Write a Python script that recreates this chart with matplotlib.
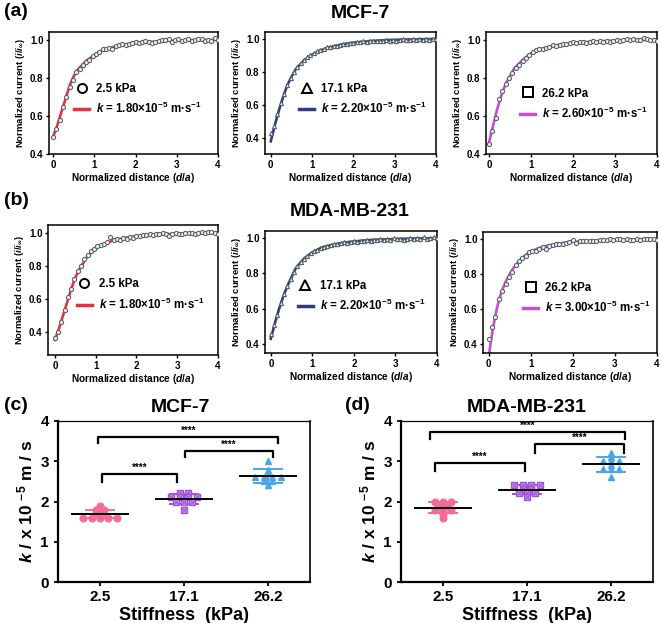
import numpy as np
import matplotlib
matplotlib.use("Agg")
import matplotlib.pyplot as plt
from matplotlib.lines import Line2D

plt.rcParams["font.family"] = ["Liberation Sans", "DejaVu Sans"]
plt.rcParams["font.weight"] = "bold"
plt.rcParams["axes.labelweight"] = "bold"
plt.rcParams["mathtext.fontset"] = "custom"
plt.rcParams["mathtext.rm"] = "Liberation Sans:bold"
plt.rcParams["mathtext.it"] = "Liberation Sans:italic:bold"
plt.rcParams["mathtext.bf"] = "Liberation Sans:bold"

# ---- approach curves: normalized distance (d/a) ----
distance = [0.00, 0.08, 0.16, 0.24, 0.32, 0.40, 0.48, 0.56, 0.64, 0.72,
            0.80, 0.88, 0.96, 1.04, 1.12, 1.20, 1.28, 1.36, 1.44, 1.52,
            1.60, 1.68, 1.76, 1.84, 1.92, 2.00, 2.08, 2.16, 2.24, 2.32,
            2.40, 2.48, 2.56, 2.64, 2.72, 2.80, 2.88, 2.96, 3.04, 3.12,
            3.20, 3.28, 3.36, 3.44, 3.52, 3.60, 3.68, 3.76, 3.84, 3.92, 4.00]

mcf_25 = [0.49, 0.53, 0.58, 0.645, 0.70, 0.755, 0.79, 0.83, 0.845, 0.87,
          0.885, 0.895, 0.915, 0.925, 0.935, 0.95, 0.955, 0.96, 0.955, 0.97,
          0.975, 0.98, 0.975, 0.98, 0.985, 0.99, 0.985, 0.99, 0.995, 0.99,
          0.985, 0.99, 0.995, 1.0, 1.0, 1.005, 0.99, 1.0, 1.005, 0.995,
          1.0, 1.005, 0.995, 1.0, 1.005, 1.005, 0.995, 1.0, 0.995, 1.01, 1.0]
mcf_171 = [0.43, 0.47, 0.545, 0.61, 0.665, 0.72, 0.765, 0.80, 0.83, 0.855,
           0.875, 0.89, 0.905, 0.915, 0.925, 0.935, 0.94, 0.95, 0.95, 0.958,
           0.96, 0.965, 0.968, 0.97, 0.975, 0.975, 0.98, 0.982, 0.985, 0.98,
           0.985, 0.99, 0.99, 0.985, 0.99, 0.995, 0.99, 0.995, 0.99, 0.995,
           1.0, 0.995, 0.995, 1.0, 0.995, 1.0, 0.995, 1.0, 0.995, 1.0, 1.0]
mcf_262 = [0.455, 0.52, 0.59, 0.69, 0.73, 0.77, 0.80, 0.825, 0.855, 0.87,
           0.89, 0.905, 0.92, 0.935, 0.945, 0.95, 0.955, 0.96, 0.965, 0.975,
           0.97, 0.975, 0.98, 0.98, 0.985, 0.99, 0.985, 0.99, 0.99, 0.985,
           0.99, 0.995, 0.99, 0.995, 0.99, 0.995, 0.99, 0.995, 1.0, 0.995,
           1.0, 1.005, 1.0, 1.005, 1.0, 1.0, 1.01, 1.005, 1.0, 1.0, 0.995]
mda_25 = [0.36, 0.40, 0.46, 0.53, 0.61, 0.66, 0.72, 0.77, 0.80, 0.84,
          0.87, 0.89, 0.905, 0.92, 0.93, 0.935, 0.945, 0.975, 0.96, 0.965,
          0.96, 0.97, 0.965, 0.975, 0.97, 0.98, 0.985, 0.99, 0.99, 0.995,
          0.99, 0.995, 0.995, 1.0, 0.995, 0.985, 0.995, 1.0, 0.995, 0.995,
          1.0, 1.0, 1.0, 0.995, 1.0, 1.005, 1.0, 1.01, 1.005, 1.0, 0.995]
mda_171 = [0.455, 0.51, 0.565, 0.63, 0.685, 0.73, 0.77, 0.81, 0.84, 0.865,
           0.885, 0.90, 0.915, 0.925, 0.935, 0.945, 0.95, 0.955, 0.96, 0.965,
           0.97, 0.975, 0.98, 0.975, 0.98, 0.985, 0.98, 0.985, 0.985, 0.99,
           0.985, 0.99, 0.99, 0.995, 0.99, 0.995, 0.99, 1.0, 0.995, 0.995,
           0.99, 0.995, 1.0, 0.995, 1.0, 0.995, 1.005, 0.995, 1.0, 1.005, 1.0]
mda_262 = [0.43, 0.495, 0.555, 0.655, 0.705, 0.745, 0.785, 0.815, 0.855, 0.875,
           0.895, 0.905, 0.925, 0.935, 0.93, 0.945, 0.955, 0.945, 0.96, 0.965,
           0.97, 0.97, 0.975, 0.98, 0.985, 0.995, 0.98, 0.99, 0.99, 0.99,
           0.99, 0.99, 0.99, 0.995, 0.995, 0.995, 1.0, 0.995, 1.0, 1.0,
           0.995, 1.0, 0.995, 0.995, 1.0, 0.995, 1.0, 1.0, 1.0, 1.0, 0.995]

# fitted curves
fit_distance = [0.0, 0.1, 0.2, 0.3, 0.4, 0.5, 0.6, 0.8, 1.0, 1.2,
                1.4, 1.6, 1.8, 2.0, 2.4, 2.8, 3.2, 3.6, 4.0]
fit_mcf_25 = [0.49, 0.55, 0.62, 0.69, 0.76, 0.81, 0.845, 0.89, 0.92, 0.945,
              0.96, 0.97, 0.978, 0.984, 0.99, 0.995, 0.998, 1.0, 1.0]
fit_mcf_171 = [0.38, 0.48, 0.57, 0.65, 0.72, 0.77, 0.815, 0.87, 0.905, 0.93,
               0.948, 0.96, 0.97, 0.977, 0.987, 0.993, 0.996, 0.998, 1.0]
fit_mcf_262 = [0.46, 0.55, 0.64, 0.71, 0.77, 0.81, 0.85, 0.895, 0.93, 0.95,
               0.963, 0.972, 0.98, 0.985, 0.991, 0.995, 0.998, 1.0, 1.0]
fit_mda_25 = [0.35, 0.42, 0.50, 0.58, 0.66, 0.73, 0.78, 0.86, 0.905, 0.935,
              0.953, 0.965, 0.975, 0.982, 0.99, 0.995, 0.998, 1.0, 1.0]
fit_mda_171 = [0.43, 0.52, 0.60, 0.67, 0.73, 0.78, 0.83, 0.885, 0.92, 0.945,
               0.958, 0.968, 0.976, 0.982, 0.99, 0.994, 0.997, 0.999, 1.0]
fit_mda_262 = [0.33, 0.49, 0.61, 0.695, 0.755, 0.80, 0.84, 0.895, 0.93, 0.95,
               0.963, 0.972, 0.98, 0.985, 0.99, 0.995, 0.998, 1.0, 1.0]

stiffness_labels = ["2.5 kPa", "17.1 kPa", "26.2 kPa"]
k_labels_mcf = ["1.80", "2.20", "2.60"]
k_labels_mda = ["1.80", "2.20", "3.00"]

# ---- rate constants k (x10^-5 m/s) ----
stiffness = ["2.5", "17.1", "26.2"]
k_mcf = [[1.7, 1.7, 1.6, 1.6, 1.6, 1.6, 1.6, 1.8, 1.8, 1.9],
         [2.2, 2.2, 2.1, 2.1, 2.1, 2.1, 2.0, 2.0, 2.0, 1.8],
         [3.0, 2.78, 2.7, 2.6, 2.6, 2.6, 2.6, 2.5, 2.5, 2.4]]
k_mda = [[2.0, 2.0, 2.0, 1.9, 1.9, 1.8, 1.8, 1.8, 1.7, 1.6],
         [2.4, 2.4, 2.4, 2.4, 2.3, 2.3, 2.2, 2.2, 2.2, 2.1],
         [3.2, 3.1, 3.0, 3.0, 3.0, 2.9, 2.8, 2.8, 2.8, 2.6]]

fit_colors = ["#e8303f", "#2f3d7c", "#c44fd0"]
data_markers = ["o", "^", "o"]
legend_markers = ["o", "^", "s"]
group_colors = ["#f46a9b", "#a250d8", "#4aa6e6"]
group_markers = ["o", "s", "^"]

W, H = 661, 623
fig = plt.figure(figsize=(W / 100, H / 100), dpi=100)


def box(l, t, r, b):
    return [l / W, 1 - b / H, (r - l) / W, (b - t) / H]


def bold_ticks(ax):
    for t in ax.get_xticklabels() + ax.get_yticklabels():
        t.set_fontweight("bold")


def curve_panel(rect, xlim, ylim, y, fit, i, klab, leg_anchor):
    ax = fig.add_axes(box(*rect))
    ax.plot(fit_distance, fit, color=fit_colors[i], lw=1.9, zorder=2)
    ax.plot(distance, y, ls="none", marker=data_markers[i], ms=3.0,
            mfc="#f2f2f2", mec="#5a6468", mew=0.8, zorder=3)
    ax.set_xlim(*xlim)
    ax.set_ylim(*ylim)
    ax.set_xticks([0, 1, 2, 3, 4])
    ax.set_yticks([0.4, 0.6, 0.8, 1.0])
    ax.tick_params(labelsize=7, length=2.5, width=1, pad=1.5)
    bold_ticks(ax)
    for s in ax.spines.values():
        s.set_linewidth(1.1)
    ax.set_xlabel(r"Normalized distance ($d$/$a$)", fontsize=7.3, labelpad=1)
    ax.set_ylabel(r"Normalized current ($i$/$i_{\infty}$)", fontsize=6.8, labelpad=2)
    handles = [Line2D([], [], ls="none", marker=legend_markers[i], ms=6.5,
                      mfc="none", mec="k", mew=1.4),
               Line2D([], [], color=fit_colors[i], lw=2.5)]
    labels = [stiffness_labels[i],
              r"$k$ = " + klab + r"×10$^{-5}$ m·s$^{-1}$"]
    ax.legend(handles, labels, loc="upper left", bbox_to_anchor=leg_anchor,
              frameon=False, fontsize=8.3, handlelength=1.3, handletextpad=0.6,
              labelspacing=0.55, borderpad=0, borderaxespad=0)
    return ax


curve_panel((49, 32, 218, 154), (-0.1, 4.0), (0.4, 1.042), mcf_25, fit_mcf_25,
            0, k_labels_mcf[0], (0.15, 0.585))
curve_panel((265, 32, 436, 154), (-0.14, 4.0), (0.303, 1.042), mcf_171, fit_mcf_171,
            1, k_labels_mcf[1], (0.2, 0.585))
curve_panel((486, 32, 657, 154), (-0.07, 4.0), (0.4, 1.042), mcf_262, fit_mcf_262,
            2, k_labels_mcf[2], (0.2, 0.545))
curve_panel((48, 225, 218, 355), (-0.17, 4.0), (0.258, 1.05), mda_25, fit_mda_25,
            0, k_labels_mda[0], (0.17, 0.59))
curve_panel((265, 231, 437, 353), (-0.14, 4.0), (0.349, 1.041), mda_171, fit_mda_171,
            1, k_labels_mda[1], (0.19, 0.6))
curve_panel((483, 232, 657, 353), (-0.135, 4.0), (0.349, 1.041), mda_262, fit_mda_262,
            2, k_labels_mda[2], (0.23, 0.59))


def k_panel(rect, data, brackets):
    ax = fig.add_axes(box(*rect))
    for i, vals in enumerate(data):
        vals = np.array(vals)
        # simple beeswarm: spread equal values side by side
        xs = np.zeros(len(vals))
        for v in np.unique(vals):
            idx = np.where(vals == v)[0]
            n = len(idx)
            xs[idx] = i + (np.arange(n) - (n - 1) / 2) * 0.1
        m, sd = vals.mean(), vals.std(ddof=1)
        if group_markers[i] == "s":
            ax.plot(xs, vals, ls="none", marker="s", ms=4.5, mfc="#c79bef",
                    mec=group_colors[i], mew=1.0, zorder=3)
            ax.plot(xs, vals, ls="none", marker="x", ms=3.0, mec=group_colors[i],
                    mew=0.7, zorder=4)
        else:
            ax.plot(xs, vals, ls="none", marker=group_markers[i], ms=4.8,
                    color=group_colors[i], zorder=3)
        ax.plot([i - 0.17, i + 0.17], [m + sd, m + sd], color=group_colors[i], lw=1.4, zorder=2)
        ax.plot([i - 0.17, i + 0.17], [m - sd, m - sd], color=group_colors[i], lw=1.4, zorder=2)
        ax.plot([i, i], [m - sd, m + sd], color=group_colors[i], lw=1.4, zorder=2)
        ax.plot([i - 0.33, i + 0.33], [m, m], color="k", lw=1.4, zorder=4)
    for x0, x1, yt, yb, in brackets:
        ax.plot([x0, x0, x1, x1], [yb, yt, yt, yb], color="k", lw=1.6)
        ax.text((x0 + x1) / 2, yt + 0.03, "****", ha="center", va="bottom",
                fontsize=7, fontweight="bold")
    ax.set_xlim(-0.5, 2.5)
    ax.set_ylim(0, 4)
    ax.set_xticks([0, 1, 2])
    ax.set_xticklabels(stiffness)
    ax.set_yticks([0, 1, 2, 3, 4])
    ax.tick_params(axis="both", labelsize=11, length=3, width=1.3)
    ax.tick_params(axis="x", pad=3)
    bold_ticks(ax)
    ax.spines["left"].set_linewidth(1.6)
    ax.spines["bottom"].set_linewidth(1.6)
    ax.spines["top"].set_linewidth(0.9)
    ax.spines["right"].set_linewidth(1.2)
    ax.set_xlabel("Stiffness  (kPa)", fontsize=13, labelpad=2)
    ax.set_ylabel(r"$k$ / x 10 $^{-5}$ m / s", fontsize=12.5, labelpad=4)
    return ax


k_panel((58, 421, 310, 582), k_mcf,
        [(0.02, 0.92, 2.68, 2.48), (1.01, 2.06, 3.25, 3.1), (-0.02, 2.12, 3.6, 3.45)])
k_panel((401, 421, 653, 582), k_mda,
        [(-0.1, 0.98, 2.96, 2.76), (1.1, 2.15, 3.43, 3.2), (-0.15, 2.17, 3.73, 3.55)])

# titles and panel letters
fig.text(360 / W, 1 - 14 / H, "MCF-7", ha="center", va="center", fontsize=14, fontweight="bold")
fig.text(350 / W, 1 - 211 / H, "MDA-MB-231", ha="center", va="center", fontsize=14, fontweight="bold")
fig.text(180 / W, 1 - 407 / H, "MCF-7", ha="center", va="center", fontsize=14, fontweight="bold")
fig.text(527 / W, 1 - 407 / H, "MDA-MB-231", ha="center", va="center", fontsize=14, fontweight="bold")
for lab, x, y in [("(a)", 4, 12), ("(b)", 4, 200), ("(c)", 4, 405), ("(d)", 345, 405)]:
    fig.text(x / W, 1 - y / H, lab, ha="left", va="center", fontsize=14, fontweight="bold")

fig.savefig("out.png", dpi=100)
